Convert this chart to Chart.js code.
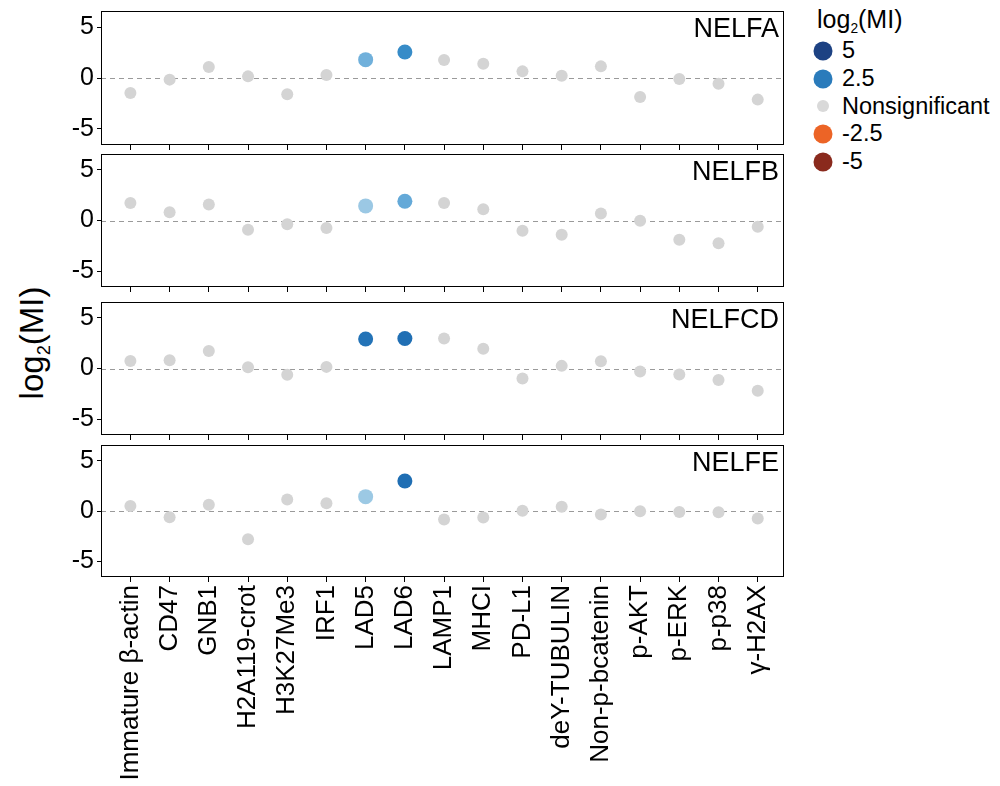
<!DOCTYPE html>
<html>
<head>
<meta charset="utf-8">
<script src="https://cdn.jsdelivr.net/npm/chart.js@4.4.0/dist/chart.umd.min.js"></script>
<style>
  body { margin: 0; background: #fff; width: 1000px; height: 786px; position: relative; overflow: hidden;
         font-family: "Liberation Sans", Arial, sans-serif; color: #000; }
  .panel { position: absolute; left: 0; width: 790px; }
  .ytitle { position: absolute; left: 34px; top: 343px; font-size: 33px; white-space: nowrap;
            transform: translate(-50%, -50%) rotate(-90deg); }
  .ytitle sub, .legend-title sub { font-size: 0.55em; vertical-align: -0.35em; }
  .legend { position: absolute; left: 810px; top: 1px; font-size: 23.5px; }
  .legend-title { margin-left: 7px; height: 36px; line-height: 36px; font-size: 25px; }
  .legend-row { position: relative; height: 27.8px; line-height: 27.8px; padding-left: 32px; }
  .legend-row span.dot { position: absolute; border-radius: 50%; top: 50%; transform: translate(-50%, -50%); left: 13px; }
</style>
</head>
<body>
<div class="ytitle">log<sub>2</sub>(MI)</div>
<div class="legend" id="legend"></div>

<script>
// categories on the x axis
const categories = ['Immature β-actin', 'CD47', 'GNB1', 'H2A119-crot', 'H3K27Me3', 'IRF1', 'LAD5', 'LAD6',
  'LAMP1', 'MHCI', 'PD-L1', 'deY-TUBULIN', 'Non-p-bcatenin', 'p-AKT', 'p-ERK', 'p-p38', 'γ-H2AX'];

// log2(MI) per panel
const panelNames = ['NELFA', 'NELFB', 'NELFCD', 'NELFE'];
const nelfa  = [-1.47, -0.16, 1.08, 0.16, -1.6, 0.29, 1.8, 2.55, 1.76, 1.4, 0.65, 0.23, 1.14, -1.86, -0.1, -0.56, -2.12];
const nelfb  = [1.73, 0.82, 1.57, -0.92, -0.36, -0.75, 1.44, 1.9, 1.73, 1.11, -1.01, -1.4, 0.69, -0.03, -1.9, -2.25, -0.62];
const nelfcd = [0.75, 0.82, 1.73, 0.13, -0.62, 0.16, 2.91, 2.97, 2.97, 1.96, -0.98, 0.26, 0.72, -0.29, -0.59, -1.14, -2.19];
const nelfe  = [0.49, -0.62, 0.62, -2.82, 1.14, 0.78, 1.43, 2.99, -0.84, -0.65, 0.03, 0.42, -0.36, -0.03, -0.1, -0.13, -0.75];

// significant markers per panel
const sigNelfa  = ['LAD5', 'LAD6'];
const sigNelfb  = ['LAD5', 'LAD6'];
const sigNelfcd = ['LAD5', 'LAD6'];
const sigNelfe  = ['LAD5', 'LAD6'];

// y axis ticks
const yTicks = [-5, 0, 5];

// legend
const legendLabels = ['5', '2.5', 'Nonsignificant', '-2.5', '-5'];
const legendColors = ['#1d4283', '#2a7bbb', '#d9d9d9', '#ec6426', '#8a2a1d'];

// colour ramp for significant points
const rampStops  = [1.4, 1.9, 2.5, 3.0, 5.0];
const rampColors = ['#a0cbe5', '#64a9d8', '#3a8fca', '#1e6db3', '#1d4283'];
const greyColor = '#d4d4d4';

function hexToRgb(h) {
  const n = parseInt(h.slice(1), 16);
  return [(n >> 16) & 255, (n >> 8) & 255, n & 255];
}
function rampColor(v) {
  if (v <= rampStops[0]) return rampColors[0];
  for (let i = 1; i < rampStops.length; i++) {
    if (v <= rampStops[i]) {
      const t = (v - rampStops[i - 1]) / (rampStops[i] - rampStops[i - 1]);
      const a = hexToRgb(rampColors[i - 1]), b = hexToRgb(rampColors[i]);
      const c = a.map((x, k) => Math.round(x + (b[k] - x) * t));
      return 'rgb(' + c.join(',') + ')';
    }
  }
  return rampColors[rampColors.length - 1];
}

// legend (html)
const legendEl = document.getElementById('legend');
legendEl.innerHTML = '<div class="legend-title">log<sub>2</sub>(MI)</div>' +
  legendLabels.map((l, i) => {
    const d = l === 'Nonsignificant' ? 12 : 19;
    return '<div class="legend-row"><span class="dot" style="width:' + d + 'px;height:' + d + 'px;background:' +
      legendColors[i] + '"></span>' + l + '</div>';
  }).join('');

const FONT = '"Liberation Sans", Arial, sans-serif';

// frame, zero line and panel name
const panelDecor = {
  id: 'panelDecor',
  beforeDatasetsDraw(chart) {
    const { ctx, chartArea: a, scales: { y } } = chart;
    const y0 = Math.round(y.getPixelForValue(0)) + 0.5;
    ctx.save();
    ctx.strokeStyle = '#9a9a9a';
    ctx.lineWidth = 1;
    ctx.setLineDash([5, 4]);
    ctx.beginPath();
    ctx.moveTo(a.left, y0);
    ctx.lineTo(a.right, y0);
    ctx.stroke();
    ctx.restore();
  },
  afterDatasetsDraw(chart, args, opts) {
    const { ctx, chartArea: a } = chart;
    ctx.save();
    ctx.strokeStyle = '#000';
    ctx.lineWidth = 1;
    ctx.strokeRect(Math.round(a.left) + 0.5, Math.round(a.top) + 0.5,
      Math.round(a.right - a.left) - 1, Math.round(a.bottom - a.top) - 1);
    ctx.fillStyle = '#000';
    ctx.font = '27px ' + FONT;
    ctx.textAlign = 'right';
    ctx.textBaseline = 'top';
    ctx.fillText(opts.label, a.right - 5, a.top + 5);
    ctx.restore();
  }
};

const frameTops = [11, 154, 302, 445];
const frameBottoms = [145, 287, 435, 577];
const panelValues = [nelfa, nelfb, nelfcd, nelfe];
const panelSig = [sigNelfa, sigNelfb, sigNelfcd, sigNelfe];
const PAD_TOP = 8;

function noPadding(s) {
  s.paddingTop = 0; s.paddingBottom = 0; s.paddingLeft = 0; s.paddingRight = 0;
}

panelValues.forEach((vals, p) => {
  const last = p === panelValues.length - 1;
  const div = document.createElement('div');
  div.className = 'panel';
  const top = frameTops[p] - PAD_TOP;
  const xh = last ? 786 - frameBottoms[p] : 10;
  div.style.top = top + 'px';
  div.style.height = (frameBottoms[p] - frameTops[p] + PAD_TOP + xh) + 'px';
  const cv = document.createElement('canvas');
  div.appendChild(cv);
  document.body.appendChild(div);

  const sig = panelSig[p];
  const isSig = categories.map(c => sig.includes(c));

  new Chart(cv, {
    type: 'scatter',
    data: {
      datasets: [{
        label: panelNames[p],
        data: vals.map((v, i) => ({ x: i, y: v })),
        pointBackgroundColor: vals.map((v, i) => isSig[i] ? rampColor(v) : greyColor),
        pointRadius: isSig.map(s => s ? 7.5 : 6),
        pointBorderWidth: 0,
        pointHoverRadius: 7.5
      }]
    },
    options: {
      responsive: true,
      maintainAspectRatio: false,
      animation: false,
      layout: { padding: { top: PAD_TOP, right: 6, left: 0, bottom: 0 }, autoPadding: false },
      plugins: {
        legend: { display: false },
        tooltip: { enabled: false },
        panelDecor: { label: panelNames[p] }
      },
      scales: {
        x: {
          type: 'linear',
          min: -0.75,
          max: 16.67,
          afterFit: s => { s.height = xh; noPadding(s); },
          grid: { drawOnChartArea: false, drawTicks: true, tickLength: 5, tickColor: '#000' },
          border: { display: false },
          ticks: {
            display: last,
            stepSize: 1,
            includeBounds: false,
            autoSkip: false,
            minRotation: 90,
            maxRotation: 90,
            padding: 3,
            color: '#000',
            font: { family: FONT, size: 26 },
            callback: v => categories[v] ?? ''
          }
        },
        y: {
          min: -6.57,
          max: 6.57,
          afterFit: s => { s.width = 101; noPadding(s); },
          afterBuildTicks: s => { s.ticks = yTicks.map(v => ({ value: v })); },
          grid: { drawOnChartArea: false, drawTicks: true, tickLength: 4, tickColor: '#000' },
          border: { display: false },
          ticks: {
            padding: 3,
            color: '#000',
            font: { family: FONT, size: 25 }
          }
        }
      }
    },
    plugins: [panelDecor]
  });
});
</script>
</body>
</html>
